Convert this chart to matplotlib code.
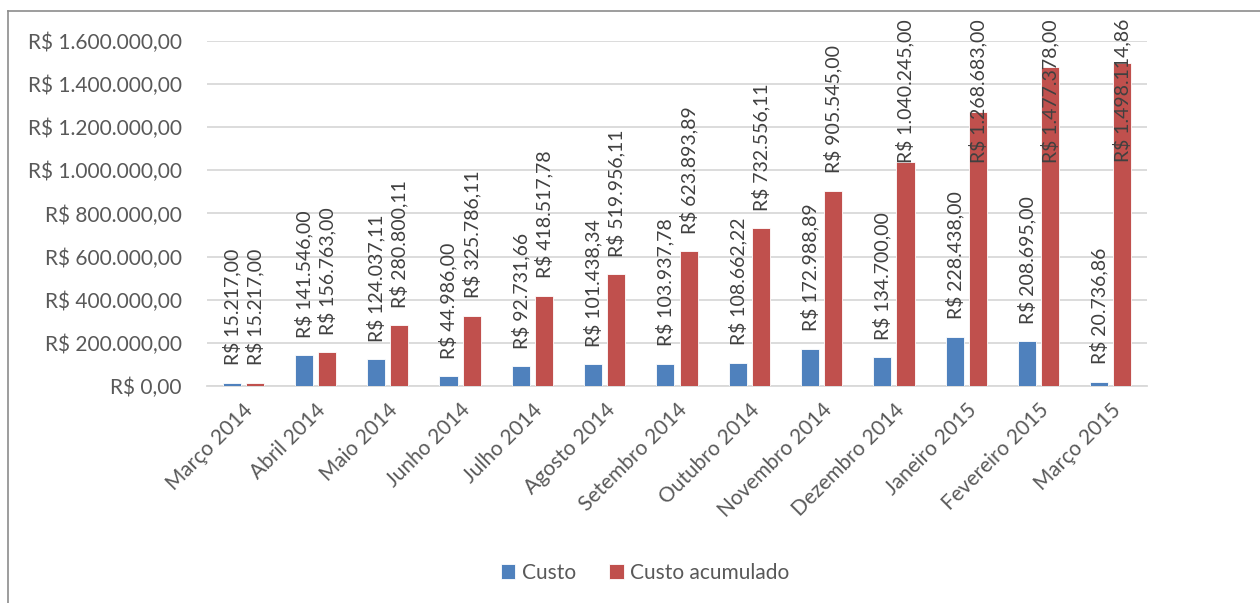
import matplotlib.pyplot as plt
from matplotlib.lines import Line2D
import numpy as np

plt.rcParams['font.family'] = ['Lato', 'DejaVu Sans']

meses = ['Março 2014', 'Abril 2014', 'Maio 2014', 'Junho 2014', 'Julho 2014',
         'Agosto 2014', 'Setembro 2014', 'Outubro 2014', 'Novembro 2014',
         'Dezembro 2014', 'Janeiro 2015', 'Fevereiro 2015', 'Março 2015']
custo = [15217.00, 141546.00, 124037.11, 44986.00, 92731.66, 101438.34,
         103937.78, 108662.22, 172988.89, 134700.00, 228438.00, 208695.00,
         20736.86]
custo_acumulado = [15217.00, 156763.00, 280800.11, 325786.11, 418517.78,
                   519956.11, 623893.89, 732556.11, 905545.00, 1040245.00,
                   1268683.00, 1477378.00, 1498114.86]
y_ticks = [0, 200000, 400000, 600000, 800000, 1000000, 1200000, 1400000, 1600000]

AZUL = '#4F81BD'
VERMELHO = '#C0504D'
CINZA_TXT = '#595959'
CINZA_GRID = '#D9D9D9'


def brl(v):
    s = f"{v:,.2f}".replace(',', 'X').replace('.', ',').replace('X', '.')
    return f"R$ {s}"


def main():
    dpi = 100
    fig = plt.figure(figsize=(12.6, 6.03), dpi=dpi)
    W, H = 1260, 603
    ax = fig.add_axes([207 / W, 1 - 386 / H, (1147 - 207) / W, (386 - 41) / H])

    # moldura da área do gráfico (só esquerda e topo visíveis)
    fig.add_artist(Line2D([8 / W, 8 / W], [0, 1 - 11 / H], color='#8C8C8C', lw=1.2,
                          transform=fig.transFigure))
    fig.add_artist(Line2D([8 / W, 1], [1 - 11 / H, 1 - 11 / H], color='#8C8C8C', lw=1.2,
                          transform=fig.transFigure))

    x = np.arange(len(meses))
    width = 0.25
    shift = 0.16

    b1 = ax.bar(x - shift, custo, width, color=AZUL, edgecolor='white', linewidth=0.6,
                label='Custo', zorder=3)
    b2 = ax.bar(x + shift, custo_acumulado, width, color=VERMELHO, edgecolor='white',
                linewidth=0.6, label='Custo acumulado', zorder=3)

    ax.set_xlim(-0.5, len(meses) - 0.5)
    ax.set_ylim(0, 1600000)
    ax.set_yticks(y_ticks)
    ax.set_yticklabels([brl(v) for v in y_ticks])
    ax.set_xticks(x)
    ax.set_xticklabels(meses, rotation=45, ha='right', rotation_mode='anchor')
    ax.tick_params(axis='both', length=0, labelsize=15, colors=CINZA_TXT)
    ax.tick_params(axis='y', pad=18)
    ax.tick_params(axis='x', pad=10)
    ax.grid(axis='y', color=CINZA_GRID, lw=1.3, zorder=0)
    for s in ['top', 'right', 'left']:
        ax.spines[s].set_visible(False)
    ax.spines['bottom'].set_color(CINZA_GRID)
    ax.spines['bottom'].set_linewidth(1.3)

    labels = []
    for xs, vals in [(x - shift, custo), (x + shift, custo_acumulado)]:
        for xi, v in zip(xs, vals):
            t = ax.annotate(brl(v), (xi, v), xytext=(0, 12.5), textcoords='offset points',
                            rotation=90, ha='center', va='bottom', fontsize=14,
                            color='#404040', annotation_clip=False, zorder=4)
            labels.append(t)

    # rótulos que passam do topo do gráfico são empurrados para baixo
    fig.canvas.draw()
    renderer = fig.canvas.get_renderer()
    top_px = H - 19
    for t in labels:
        bb = t.get_window_extent(renderer)
        if bb.y1 > top_px:
            dx, dy = t.xyann
            t.xyann = (dx, dy - (bb.y1 - top_px) * 72 / dpi)

    fig.legend(handles=[b1, b2], loc='center', bbox_to_anchor=(645 / W, 1 - 573 / H),
               ncol=2, frameon=False, fontsize=15, labelcolor=CINZA_TXT,
               handlelength=0.7, handleheight=0.7, handletextpad=0.3, columnspacing=1.6)

    fig.savefig('out.png', dpi=dpi, facecolor='white')


if __name__ == '__main__':
    main()
